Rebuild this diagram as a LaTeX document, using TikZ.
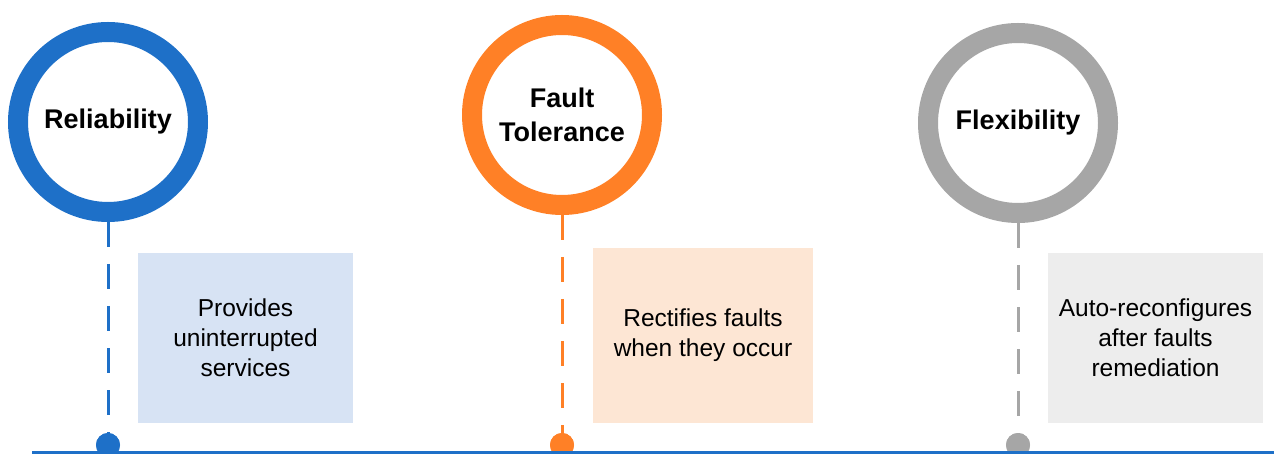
\documentclass[tikz,border=0pt]{standalone}
\usepackage{fontspec}
\setmainfont{Liberation Sans}
\definecolor{cblue}{HTML}{1E70C8}
\definecolor{cblueL}{HTML}{D7E3F4}
\definecolor{corange}{HTML}{FF8026}
\definecolor{corangeL}{HTML}{FDE6D4}
\definecolor{cgray}{HTML}{A6A6A6}
\definecolor{cgrayL}{HTML}{EDEDED}
\begin{document}
\begin{tikzpicture}[x=1pt,y=-1pt,
  ring/.style={circle,draw=#1,line width=20pt,minimum size=180pt,fill=white,inner sep=0pt,
    align=center,font=\fontsize{27}{34}\selectfont\bfseries},
  descbox/.style={fill=#1,minimum width=215pt,minimum height=170pt,inner sep=0pt,
    align=center,font=\fontsize{24.5}{30}\selectfont},
  dot/.style={circle,fill=#1,minimum size=24pt,inner sep=0pt},
  stem/.style={draw=#1,line width=3pt,dash pattern=on 25pt off 17pt}]
\useasboundingbox (0,0) rectangle (1274,454);
% rings
\node[ring=cblue] (r1) at (108,122) {Reliability};
\node[ring=corange] (r2) at (562,115) {Fault\\Tolerance};
\node[ring=cgray] (r3) at (1018,123) {Flexibility};
% boxes
\node[descbox=cblueL] (b1) at (245.5,338) {Provides\\uninterrupted\\services};
\node[descbox=corangeL, minimum width=220pt, minimum height=175pt] (b2) at (703,335.5) {Rectifies faults\\when they occur};
\node[descbox=cgrayL] (b3) at (1155.5,338) {Auto-reconfigures\\after faults\\remediation};
% dots
\node[dot=cblue] (d1) at (108,445) {};
\node[dot=corange] (d2) at (562,445) {};
\node[dot=cgray] (d3) at (1018,445) {};
% stems
\draw[stem=cblue] (r1.south) -- (d1.center);
\draw[stem=corange] (r2.south) -- (d2.center);
\draw[stem=cgray] (r3.south) -- (d3.center);
\node[dot=cblue] at (d1) {};
\node[dot=corange] at (d2) {};
\node[dot=cgray] at (d3) {};
% baseline
\coordinate (bl) at (32,452);
\coordinate (br) at (1274,452);
\draw[cblue,line width=3pt] (bl) -- (br);
\end{tikzpicture}
\end{document}
